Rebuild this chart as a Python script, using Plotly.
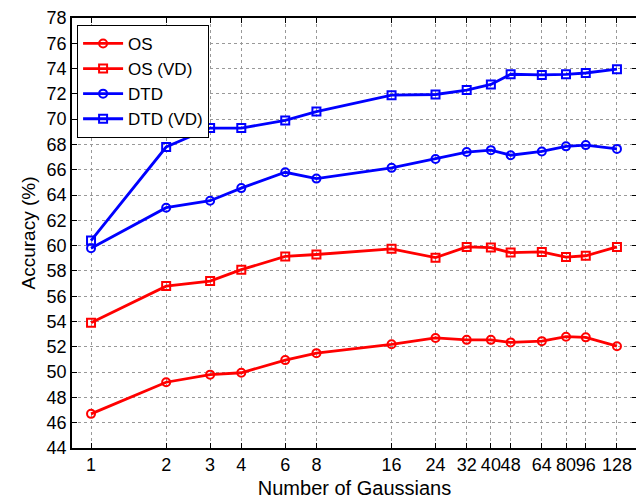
import math
import plotly.graph_objects as go

gaussians = [1, 2, 3, 4, 6, 8, 16, 24, 32, 40, 48, 64, 80, 96, 128]
os_acc = [46.7, 49.2, 49.8, 49.95, 50.95, 51.5, 52.2, 52.7, 52.55, 52.55, 52.35, 52.45, 52.8, 52.75, 52.05]
os_vd = [53.9, 56.8, 57.2, 58.1, 59.15, 59.3, 59.75, 59.05, 59.9, 59.85, 59.45, 59.5, 59.1, 59.2, 59.9]
dtd = [59.8, 63.0, 63.55, 64.55, 65.8, 65.3, 66.15, 66.85, 67.4, 67.55, 67.15, 67.45, 67.85, 67.95, 67.65]
dtd_vd = [60.4, 67.8, 69.3, 69.3, 69.9, 70.6, 71.9, 71.95, 72.3, 72.75, 73.55, 73.5, 73.55, 73.65, 73.95]
y_ticks = list(range(44, 79, 2))

series = [
    ("OS", os_acc, "#ff0000", "circle-open"),
    ("OS (VD)", os_vd, "#ff0000", "square-open"),
    ("DTD", dtd, "#0000ff", "circle-open"),
    ("DTD (VD)", dtd_vd, "#0000ff", "square-open"),
]

fig = go.Figure()
for name, vals, color, sym in series:
    fig.add_trace(go.Scatter(
        x=gaussians, y=vals, name=name, mode="lines+markers",
        line=dict(color=color, width=2.8),
        marker=dict(symbol=sym, size=8, color=color, line=dict(width=2, color=color)),
    ))

fig.update_layout(
    width=636, height=492,
    margin=dict(l=64, r=7, t=10, b=52),
    paper_bgcolor="white", plot_bgcolor="white",
    font=dict(family="Liberation Sans, Arial, sans-serif", size=18, color="black"),
    showlegend=True,
    legend=dict(x=0.009, y=0.984, xanchor="left", yanchor="top",
                bordercolor="black", borderwidth=1, bgcolor="white",
                font=dict(size=17), tracegroupgap=0, itemwidth=40),
    xaxis=dict(
        type="log", range=[math.log10(0.839), math.log10(154)],
        tickvals=gaussians, ticktext=[str(g) for g in gaussians],
        tickangle=0, tickfont=dict(size=18),
        showgrid=True, gridcolor="#999999", griddash="dot", gridwidth=1,
        showline=True, linecolor="black", linewidth=1.5, mirror="ticks",
        ticks="inside", ticklen=5, tickcolor="black",
        title=dict(text="Number of Gaussians", font=dict(size=20), standoff=7),
        zeroline=False, automargin=False,
    ),
    yaxis=dict(
        range=[44, 78], tickvals=y_ticks, tickfont=dict(size=18),
        showgrid=True, gridcolor="#999999", griddash="dot", gridwidth=1,
        showline=True, linecolor="black", linewidth=1.5, mirror="ticks",
        ticks="inside", ticklen=5, tickcolor="black",
        title=dict(text="Accuracy (%)", font=dict(size=19), standoff=6),
        zeroline=False, automargin=False,
    ),
)
fig.write_html("out.html")
